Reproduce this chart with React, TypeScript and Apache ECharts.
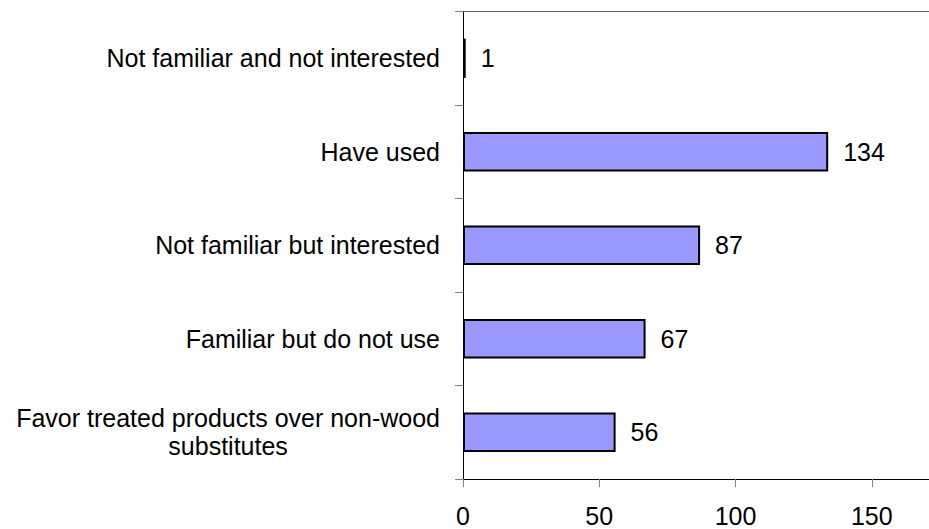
import React, { useEffect, useRef } from "react";
import * as echarts from "echarts";

const categories = [
  "Favor treated products over non-wood\nsubstitutes",
  "Familiar but do not use",
  "Not familiar but interested",
  "Have used",
  "Not familiar and not interested",
];
const values = [56, 67, 87, 134, 1];
const xTickValues = [0, 50, 100, 150];
const xMin = 0;
const xMax = 171;

const FONT = "'Liberation Sans', Arial, sans-serif";

export default function App() {
  const ref = useRef<HTMLDivElement>(null);
  useEffect(() => {
    if (!ref.current) return;
    const chart = echarts.init(ref.current, undefined, { renderer: "svg" });
    chart.setOption({
      animation: false,
      grid: {
        left: 463,
        right: 0,
        top: 11.5,
        bottom: 50,
        containLabel: false,
        outerBoundsMode: "none",
      },
      xAxis: [
        {
          type: "value",
          min: xMin,
          max: xMax,
          position: "bottom",
          splitLine: { show: false },
          axisLine: { show: true, lineStyle: { color: "#000", width: 1 } },
          axisTick: {
            show: true,
            length: 8,
            customValues: xTickValues,
            lineStyle: { color: "#808080" },
          },
          axisLabel: {
            color: "#000",
            fontSize: 25,
            fontFamily: FONT,
            margin: 24,
            customValues: xTickValues,
          },
        },
        {
          type: "value",
          min: xMin,
          max: xMax,
          position: "top",
          splitLine: { show: false },
          axisLine: { show: true, lineStyle: { color: "#595959", width: 1 } },
          axisTick: { show: false },
          axisLabel: { show: false },
        },
      ],
      yAxis: {
        type: "category",
        data: categories,
        axisLine: { show: true, lineStyle: { color: "#000", width: 1 } },
        axisTick: { show: true, length: 8, lineStyle: { color: "#808080" } },
        axisLabel: {
          color: "#000",
          fontSize: 25,
          fontFamily: FONT,
          margin: 23,
          formatter: (v: string) =>
            v.includes("\n")
              ? v
                  .split("\n")
                  .map((l) => `{c|${l}}`)
                  .join("\n")
              : v,
          rich: {
            c: {
              align: "center",
              fontSize: 25,
              fontFamily: FONT,
              color: "#000",
              lineHeight: 28,
            },
          },
        },
      },
      series: [
        {
          type: "bar",
          data: values,
          xAxisIndex: 0,
          barWidth: "42%",
          itemStyle: { color: "#9999FF", borderColor: "#000", borderWidth: 2 },
          label: {
            show: true,
            position: "right",
            distance: 15,
            color: "#000",
            fontSize: 25,
            fontFamily: FONT,
          },
        },
      ],
    });
    return () => chart.dispose();
  }, []);
  return <div ref={ref} style={{ width: 929, height: 529, position: "absolute", left: 0, top: 0 }} />;
}
